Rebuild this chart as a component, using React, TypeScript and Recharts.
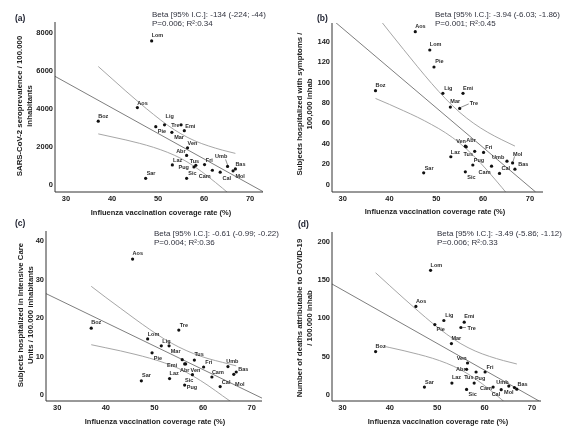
import React from "react";
import { ComposedChart, Line, Scatter, XAxis, YAxis } from "recharts";

const FONT = '"Liberation Sans", Arial, Helvetica, sans-serif';

const regions = [
  "Boz", "Aos", "Sar", "Lom", "Pie", "Lig", "Mar", "Laz", "Tre", "Emi", "Sic",
  "Abr", "Ven", "Pug", "Tus", "Fri", "Cam", "Cal", "Umb", "Mol", "Bas",
];
const coverage = [
  37.0, 45.5, 47.3, 48.6, 49.5, 51.4, 53.0, 53.1, 55.0, 55.7, 56.2,
  56.2, 56.4, 57.8, 58.2, 60.1, 61.8, 63.5, 65.1, 66.3, 66.8,
];
const seroprevalence = [
  3320, 4040, 300, 7560, 3030, 3130, 2730, 1010, 3130, 2820, 300,
  1510, 1915, 900, 990, 1030, 730, 625, 930, 700, 800,
];
const hospitalized = [
  91.5, 149.5, 10.8, 131.5, 114.8, 88.9, 75.4, 26.6, 74.1, 88.9, 11.8,
  37.0, 36.4, 18.5, 32.0, 30.9, 17.4, 10.2, 22.3, 20.6, 14.4,
];
const intensiveCare = [
  17.2, 35.2, 3.5, 14.4, 10.8, 12.6, 12.6, 4.1, 16.7, 9.0, 2.4,
  7.9, 7.9, 5.1, 8.9, 7.1, 4.5, 2.0, 7.2, 5.2, 5.8,
];
const deaths = [
  55.6, 114.7, 9.2, 161.9, 91.0, 96.3, 66.1, 14.4, 87.1, 94.1, 6.2,
  32.4, 40.7, 14.4, 28.9, 28.9, 9.2, 5.8, 10.5, 8.5, 6.5,
];

const xTicks = [30, 40, 50, 60, 70];

// fitted lines, read at their visible ends
const fitXA = [27.6, 72.8];
const fitYA = [5690, -400];
const fitXB = [28.5, 71.2];
const fitYB = [158.4, -7.9];
const fitXC = [27.7, 72.1];
const fitYC = [26.2, -1.0];
const fitXD = [27.8, 71.55];
const fitYD = [144, -9.2];

// 95% bands
const bandX = [37, 40, 43, 46, 49, 52, 55, 58, 61, 64, 66.8];
const upperA = [6210, 5560, 4910, 4280, 3680, 3120, 2650, 2280, 2010, 1790, 1620];
const lowerA = [2650, 2490, 2330, 2150, 1940, 1680, 1350, 910, 370, -220, -800];
const upperB = [166.7, 149.2, 132.0, 115.0, 98.6, 83.5, 70.2, 59.4, 50.6, 43.3, 37.1];
const lowerB = [83.9, 78.0, 71.8, 65.4, 58.2, 50.1, 40.0, 27.4, 12.6, -3.5, -19.1];
const upperC = [28.1, 25.2, 22.4, 19.6, 16.9, 14.4, 12.3, 10.6, 9.3, 8.3, 7.4];
const lowerC = [12.9, 12.1, 11.3, 10.4, 9.4, 8.2, 6.7, 4.7, 2.3, -0.4, -2.9];
const upperD = [158.7, 141.7, 124.9, 108.5, 92.7, 78.3, 65.9, 56.4, 49.4, 43.8, 39.4];
const lowerXD = [38.8, 40, 43, 46, 49, 52, 55, 58, 61, 64, 66.8];
const lowerD = [62.5, 60.9, 56.7, 52.1, 46.9, 40.3, 31.7, 20.2, 6.2, -9.2, -24.4];

type Off = { dx: number; dy: number; end?: boolean; lead?: number[] };
const o = (dx: number, dy: number, end = false, lead?: number[]): Off => ({ dx, dy, end, lead });

const labelsA: Record<string, Off> = {
  Lom: o(0, -5.7), Aos: o(0, -5), Boz: o(0, -5.3), Lig: o(1, -8.3), Tre: o(-1.5, 0, true),
  Emi: o(1, -5), Pie: o(2, 4), Mar: o(2.3, 4.7), Ven: o(0, -5), Abr: o(-1, -4.7, true),
  Laz: o(0.7, -5.3), Tus: o(-6, -4.7), Pug: o(-5, 0, true), Fri: o(1.3, -5),
  Umb: o(-0.3, -10, true, [0, -1.5, -2, -7]), Bas: o(0, -5), Mol: o(2.3, 5), Cal: o(2.3, 5.7),
  Cam: o(-1.7, 5.3, true), Sic: o(1.7, -5), Sar: o(1, -5.7),
};
const labelsB: Record<string, Off> = {
  Aos: o(0, -5.7), Lom: o(0, -5.7), Pie: o(1.3, -6), Boz: o(0, -5.7), Lig: o(1.3, -5.7),
  Emi: o(0, -5.7), Mar: o(0, -6), Tre: o(10, -5.7, false, [1, -1, 9, -4.5]),
  Ven: o(-0.3, -5.7, true), Abr: o(1, -5.7), Fri: o(1.7, -5), Tus: o(-1.7, 3, true),
  Laz: o(0, -5), Pug: o(1, -5.3), Umb: o(-2.7, -4.3, true),
  Mol: o(0.3, -9.3, false, [0.5, -1.5, 2, -6.5]), Bas: o(3.3, -5), Cal: o(2, -5),
  Cam: o(-1, 5.7, true), Sic: o(2, 4.7), Sar: o(1, -5),
};
const labelsC: Record<string, Off> = {
  Aos: o(0, -6), Boz: o(0, -5.7), Tre: o(1, -5.3), Lom: o(0, -5.3), Lig: o(1, -5.3),
  Mar: o(1.7, 5.3), Pie: o(1.7, 5), Tus: o(0, -5.7), Emi: o(-5, 5.3, true),
  Abr: o(-4.7, 5.7), Ven: o(5, 5.7), Fri: o(1.7, -5.3), Umb: o(-1.7, -5.3),
  Cam: o(0, -4.7), Bas: o(2, -3), Mol: o(1.3, 9.7), Cal: o(1.7, -5), Sar: o(0.7, -5.7),
  Laz: o(0, -6), Sic: o(0.4, -4.8), Pug: o(-5.7, 12.5),
};
const labelsD: Record<string, Off> = {
  Lom: o(0, -5.7), Aos: o(0, -5.7), Lig: o(1.3, -5), Emi: o(0, -5.7), Pie: o(1.7, 4.7),
  Tre: o(6.7, 0, false, [1.7, 0, 5, 0]), Mar: o(0, -6), Boz: o(0, -5.7),
  Ven: o(-1, -5, true), Abr: o(-1, 0, true), Fri: o(1.3, -5.3), Tus: o(-11.9, 4.7),
  Pug: o(0.7, -4.7), Laz: o(0, -5.7), Sar: o(0.7, -5.3), Sic: o(2, 4.7),
  Cam: o(-1.2, 1, true), Cal: o(-1, 4.7, true), Umb: o(-0.2, -4, true),
  Mol: o(-0.9, 4.5, true), Bas: o(0.7, -5.4),
};

const pts = (xs: number[], ys: number[]) => xs.map((x, i) => ({ x, y: ys[i] }));

interface PanelProps {
  left: number;
  top: number;
  width: number;
  height: number;
  margin: { top: number; right: number; bottom: number; left: number };
  yWidth: number;
  xHeight: number;
  xDomain: [number, number];
  yDomain: [number, number];
  yTicks: number[];
  values: number[];
  labels: Record<string, Off>;
  fit: { x: number; y: number }[];
  upper: { x: number; y: number }[];
  lower: { x: number; y: number }[];
  yTitle: [string, string];
  yTitleX: [number, number];
  yTitleMid: number;
  xTitleX: number;
  xTitleY: number;
}

const tickStyle = { fontSize: 7.5, fontWeight: 700, fill: "#222", fontFamily: FONT };

function Panel(p: PanelProps) {
  const points = regions.map((name, i) => ({ name, x: coverage[i], y: p.values[i] }));

  const renderPoint = (s: any) => {
    const { cx, cy, payload } = s;
    const off = p.labels[payload.name] ?? o(0, -5.5);
    return (
      <g>
        <circle cx={cx} cy={cy} r={1.6} fill="#111" />
        {off.lead && (
          <line
            x1={cx + off.lead[0]}
            y1={cy + off.lead[1]}
            x2={cx + off.lead[2]}
            y2={cy + off.lead[3]}
            stroke="#444"
            strokeWidth={0.6}
          />
        )}
        <text
          x={cx + off.dx}
          y={cy + off.dy}
          textAnchor={off.end ? "end" : "start"}
          dominantBaseline="central"
          fontSize={5.5}
          fontWeight={700}
          fill="#2a2a2a"
          fontFamily={FONT}
        >
          {payload.name}
        </text>
      </g>
    );
  };

  return (
    <div
      style={{
        position: "absolute",
        left: p.left,
        top: p.top,
        width: p.width,
        height: p.height,
        willChange: "transform",
      }}
    >
      <ComposedChart width={p.width} height={p.height} margin={p.margin}>
        <XAxis
          type="number"
          dataKey="x"
          domain={p.xDomain}
          ticks={xTicks}
          interval={0}
          allowDataOverflow
          height={p.xHeight}
          tickLine={false}
          tickSize={0}
          tickMargin={4}
          axisLine={{ stroke: "#333", strokeWidth: 1 }}
          tick={tickStyle}
          label={() => (
            <text
              x={p.xTitleX}
              y={p.xTitleY}
              textAnchor="middle"
              dominantBaseline="central"
              fontSize={7.5}
              fontWeight={700}
              fill="#222"
              fontFamily={FONT}
            >
              Influenza vaccination coverage rate (%)
            </text>
          )}
        />
        <YAxis
          type="number"
          dataKey="y"
          domain={p.yDomain}
          ticks={p.yTicks}
          interval={0}
          allowDataOverflow
          width={p.yWidth}
          tickLine={false}
          tickSize={0}
          tickMargin={2}
          axisLine={{ stroke: "#333", strokeWidth: 1 }}
          tick={tickStyle}
          label={() => (
            <g>
              {p.yTitle.map((line, i) => (
                <text
                  key={i}
                  x={p.yTitleX[i]}
                  y={p.yTitleMid}
                  transform={`rotate(-90, ${p.yTitleX[i]}, ${p.yTitleMid})`}
                  textAnchor="middle"
                  dominantBaseline="central"
                  fontSize={7.8}
                  fontWeight={700}
                  fill="#222"
                  fontFamily={FONT}
                >
                  {line}
                </text>
              ))}
            </g>
          )}
        />
        <Line data={p.fit} dataKey="y" type="linear" stroke="#6f6f6f" strokeWidth={0.9} dot={false} activeDot={false} isAnimationActive={false} />
        <Line data={p.upper} dataKey="y" type="monotone" stroke="#9c9c9c" strokeWidth={0.9} dot={false} activeDot={false} isAnimationActive={false} />
        <Line data={p.lower} dataKey="y" type="monotone" stroke="#9c9c9c" strokeWidth={0.9} dot={false} activeDot={false} isAnimationActive={false} />
        <Scatter data={points} dataKey="y" shape={renderPoint} isAnimationActive={false} />
      </ComposedChart>
    </div>
  );
}

function Note({ left, top, beta, stats }: { left: number; top: number; beta: string; stats: string }) {
  return (
    <div
      style={{
        position: "absolute",
        left,
        top,
        fontFamily: FONT,
        fontSize: 8,
        lineHeight: "9px",
        color: "#30323e",
        whiteSpace: "nowrap",
      }}
    >
      <div>{beta}</div>
      <div>{stats}</div>
    </div>
  );
}

function Tag({ left, top, text }: { left: number; top: number; text: string }) {
  return (
    <div
      style={{
        position: "absolute",
        left,
        top,
        fontFamily: FONT,
        fontSize: 8.5,
        fontWeight: 700,
        lineHeight: "10px",
        color: "#1c1f2e",
      }}
    >
      {text}
    </div>
  );
}

export default function App() {
  return (
    <div style={{ position: "absolute", left: 0, top: 0, width: 568, height: 435, background: "#fff" }}>
      <Panel
        left={0}
        top={0}
        width={284}
        height={218}
        margin={{ top: 22, right: 21, bottom: 0, left: 0 }}
        yWidth={55}
        xHeight={26}
        xDomain={[27.6, 72.8]}
        yDomain={[-420, 8560]}
        yTicks={[0, 2000, 4000, 6000, 8000]}
        values={seroprevalence}
        labels={labelsA}
        fit={pts(fitXA, fitYA)}
        upper={pts(bandX, upperA)}
        lower={pts(bandX, lowerA)}
        yTitle={["SARS-CoV-2 seroprevalence / 100.000", "inhabitants"]}
        yTitleX={[19, 29.3]}
        yTitleMid={106}
        xTitleX={161}
        xTitleY={212.5}
      />
      <Panel
        left={284}
        top={0}
        width={284}
        height={218}
        margin={{ top: 23, right: 25, bottom: 0, left: 0 }}
        yWidth={48}
        xHeight={26}
        xDomain={[27.7, 72.8]}
        yDomain={[-8, 158]}
        yTicks={[0, 20, 40, 60, 80, 100, 120, 140]}
        values={hospitalized}
        labels={labelsB}
        fit={pts(fitXB, fitYB)}
        upper={pts(bandX, upperB)}
        lower={pts(bandX, lowerB)}
        yTitle={["Subjects hospitalized with symptoms /", "100,000 inhab"]}
        yTitleX={[15, 25]}
        yTitleMid={104}
        xTitleX={151}
        xTitleY={211.7}
      />
      <Panel
        left={0}
        top={218}
        width={284}
        height={217}
        margin={{ top: 13, right: 22, bottom: 0, left: 0 }}
        yWidth={46}
        xHeight={34}
        xDomain={[27.7, 72.1]}
        yDomain={[-1.75, 42.5]}
        yTicks={[0, 10, 20, 30, 40]}
        values={intensiveCare}
        labels={labelsC}
        fit={pts(fitXC, fitYC)}
        upper={pts(bandX, upperC)}
        lower={pts(bandX, lowerC)}
        yTitle={["Subjects hospitalized in Intensive Care", "Units / 100.000 inhabitants"]}
        yTitleX={[20, 30.7]}
        yTitleMid={97}
        xTitleX={155}
        xTitleY={203.3}
      />
      <Panel
        left={284}
        top={218}
        width={284}
        height={217}
        margin={{ top: 14, right: 27, bottom: 0, left: 0 }}
        yWidth={48}
        xHeight={34}
        xDomain={[27.8, 71.9]}
        yDomain={[-9, 212]}
        yTicks={[0, 50, 100, 150, 200]}
        values={deaths}
        labels={labelsD}
        fit={pts(fitXD, fitYD)}
        upper={pts(bandX, upperD)}
        lower={pts(lowerXD, lowerD)}
        yTitle={["Number of deaths attributable to COVID-19", "/ 100.000 inhab"]}
        yTitleX={[15, 25.7]}
        yTitleMid={100}
        xTitleX={154}
        xTitleY={203}
      />
      <Tag left={15} top={13} text="(a)" />
      <Tag left={317} top={13} text="(b)" />
      <Tag left={15} top={218} text="(c)" />
      <Tag left={298} top={219} text="(d)" />
      <Note left={152} top={9.8} beta="Beta [95% I.C.]: -134 (-224; -44)" stats="P=0.006; R²:0.34" />
      <Note left={435} top={9.8} beta="Beta [95% I.C.]: -3.94 (-6.03; -1.86)" stats="P=0.001; R²:0.45" />
      <Note left={154} top={229.2} beta="Beta [95% I.C.]: -0.61 (-0.99; -0.22)" stats="P=0.004; R²:0.36" />
      <Note left={437} top={229.2} beta="Beta [95% I.C.]: -3.49 (-5.86; -1.12)" stats="P=0.006; R²:0.33" />
    </div>
  );
}
